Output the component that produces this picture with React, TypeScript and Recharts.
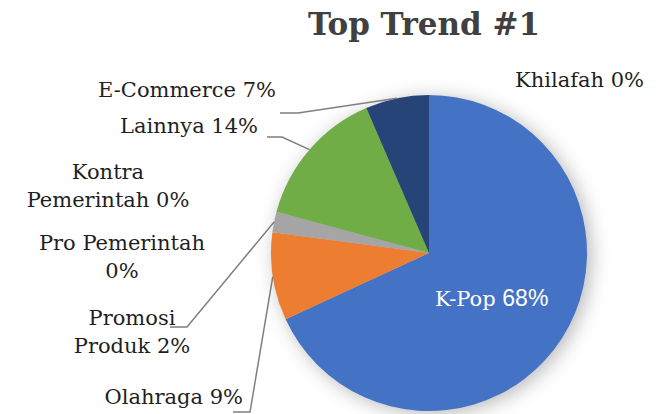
import React from 'react';
import { PieChart, Pie, Cell } from 'recharts';

const CATEGORIES = [
  'K-Pop',
  'Olahraga',
  'Promosi Produk',
  'Pro Pemerintah',
  'Kontra Pemerintah',
  'Lainnya',
  'E-Commerce',
  'Khilafah',
];
const SHARES = [68.1, 9.0, 2.1, 0, 0, 14.3, 6.5, 0];
const COLORS = ['#4472C4', '#ED7D31', '#A5A5A5', '#FFC000', '#5B9BD5', '#70AD47', '#264478', '#9E480E'];

const TITLE = 'Top Trend #1';

const chartData = CATEGORIES.map((name, i) => ({ name, value: SHARES[i] }));

// where each data label sits (page pixels), how many words go on the first line,
// and the elbow / end of the leader line if there is one
type LabelLayout = {
  x: number;
  y: number;
  anchor: 'start' | 'middle' | 'end';
  firstLineWords?: number;
  elbow?: [number, number];
  end?: [number, number];
  inside?: boolean;
};

const LABEL_LAYOUT: LabelLayout[] = [
  { x: 435, y: 306, anchor: 'start', inside: true },
  { x: 243, y: 404, anchor: 'end', elbow: [250, 412], end: [233, 412] },
  { x: 132, y: 325, anchor: 'middle', firstLineWords: 1, elbow: [187, 327], end: [170, 327] },
  { x: 122, y: 250, anchor: 'middle', firstLineWords: 2 },
  { x: 108, y: 179, anchor: 'middle', firstLineWords: 1 },
  { x: 258, y: 133, anchor: 'end', elbow: [282, 137], end: [267, 137] },
  { x: 276, y: 97, anchor: 'end', elbow: [298, 113], end: [280, 113] },
  { x: 515, y: 87, anchor: 'start' },
];

const SERIF = '"DejaVu Serif", serif';
const RAD = Math.PI / 180;
const CX = 429;
const CY = 253;
const R = 158;

const renderLabel = (props: any) => {
  const { cx, cy, midAngle, outerRadius, percent, index, name } = props;
  const layout = LABEL_LAYOUT[index];
  if (!layout) return null;
  const pct = `${Math.round(percent * 100)}%`;

  if (layout.inside) {
    return (
      <text x={layout.x} y={layout.y} textAnchor={layout.anchor} fill="#ffffff" fontSize={21} fontFamily={SERIF}>
        {name + ' '}
        <tspan fontFamily='"Liberation Sans", sans-serif' fontSize={23}>{pct}</tspan>
      </text>
    );
  }

  const words = String(name).split(' ');
  const lines = layout.firstLineWords
    ? [words.slice(0, layout.firstLineWords).join(' '), [...words.slice(layout.firstLineWords), pct].join(' ')]
    : [`${name} ${pct}`];

  let line = null;
  if (layout.elbow && layout.end) {
    const ex = cx + outerRadius * Math.cos(midAngle * RAD);
    const ey = cy - outerRadius * Math.sin(midAngle * RAD);
    line = (
      <polyline
        points={`${ex},${ey} ${layout.elbow[0]},${layout.elbow[1]} ${layout.end[0]},${layout.end[1]}`}
        fill="none"
        stroke="#7F7F7F"
        strokeWidth={1.5}
      />
    );
  }

  return (
    <g>
      {line}
      <text x={layout.x} y={layout.y} textAnchor={layout.anchor} fill="#1f1f1f" fontSize={21} fontFamily={SERIF}>
        {lines.map((l, i) => (
          <tspan key={i} x={layout.x} dy={i === 0 ? 0 : 28}>
            {l}
          </tspan>
        ))}
      </text>
    </g>
  );
};

export default function App() {
  return (
    <div style={{ position: 'absolute', left: 0, top: 0, width: 666, height: 414, background: '#fff', overflow: 'hidden' }}>
      <style>{'.pie-shadow { filter: blur(7px); }'}</style>
      <div
        style={{
          position: 'absolute',
          left: 0,
          width: 848,
          top: 2,
          textAlign: 'center',
          fontFamily: SERIF,
          fontWeight: 'bold',
          fontSize: 31,
          lineHeight: '44px',
          color: '#404040',
        }}
      >
        {TITLE}
      </div>
      <PieChart width={666} height={414} margin={{ top: 0, right: 0, bottom: 0, left: 0 }}>
        {/* soft drop shadow under the pie */}
        <Pie
          className="pie-shadow"
          data={chartData}
          dataKey="value"
          nameKey="name"
          cx={CX + 4}
          cy={CY + 3}
          outerRadius={R}
          startAngle={90}
          endAngle={-270}
          stroke="none"
          fill="rgba(0,0,0,0.28)"
          labelLine={false}
          isAnimationActive={false}
        />
        <Pie
          data={chartData}
          dataKey="value"
          nameKey="name"
          cx={CX}
          cy={CY}
          outerRadius={R}
          startAngle={90}
          endAngle={-270}
          stroke="none"
          label={renderLabel}
          labelLine={false}
          isAnimationActive={false}
        >
          {chartData.map((entry, i) => (
            <Cell key={`cell-${i}`} fill={COLORS[i]} />
          ))}
        </Pie>
      </PieChart>
    </div>
  );
}
